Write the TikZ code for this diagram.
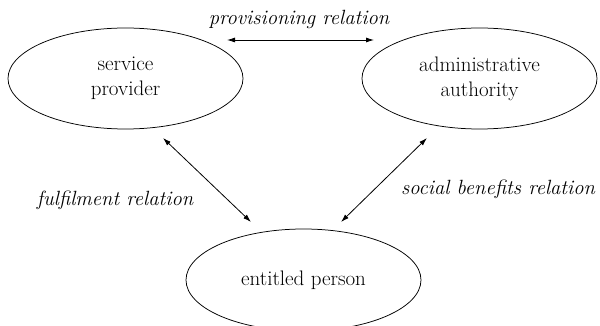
\documentclass[tikz,border=0pt]{standalone}
\usepackage{fontspec}
\usetikzlibrary{shapes.geometric,arrows.meta,calc}
\begin{document}
\begin{tikzpicture}[x=1pt,y=-1pt,
  party/.style={draw, ellipse, line width=0.75pt, minimum width=235pt, minimum height=101pt, inner sep=0pt, align=center, font=\fontsize{21}{25}\selectfont},
  rel/.style={font=\fontsize{20.6}{25}\selectfont\itshape, anchor=base, inner sep=0pt},
  link/.style={{Latex[length=8pt,width=5pt]}-{Latex[length=8pt,width=5pt]}, line width=0.8pt}
]
\useasboundingbox (0,0) rectangle (600,326);
\node[party] (sp) at (125.5,78.5) {service\\provider};
\node[party] (aa) at (479.5,78.5) {administrative\\authority};
\node[party, minimum height=102pt] (ep) at (303.5,280) {entitled person};
\node[rel] (lprov) at (299,25) {provisioning relation};
\node[rel] (lful) at (115,205) {fulfilment relation};
\node[rel] (lsoc) at (498,194) {social benefits relation};
\draw[link] ($(sp.center)+(101.5,-38.5)$) -- ($(aa.center)+(-105.5,-38.5)$);
\draw[link] ($(sp.center)+(37.5,59.5)$) -- ($(ep.center)+(-52.5,-58)$);
\draw[link] ($(aa.center)+(-52.5,59.5)$) -- ($(ep.center)+(37.5,-58)$);
\end{tikzpicture}
\end{document}
